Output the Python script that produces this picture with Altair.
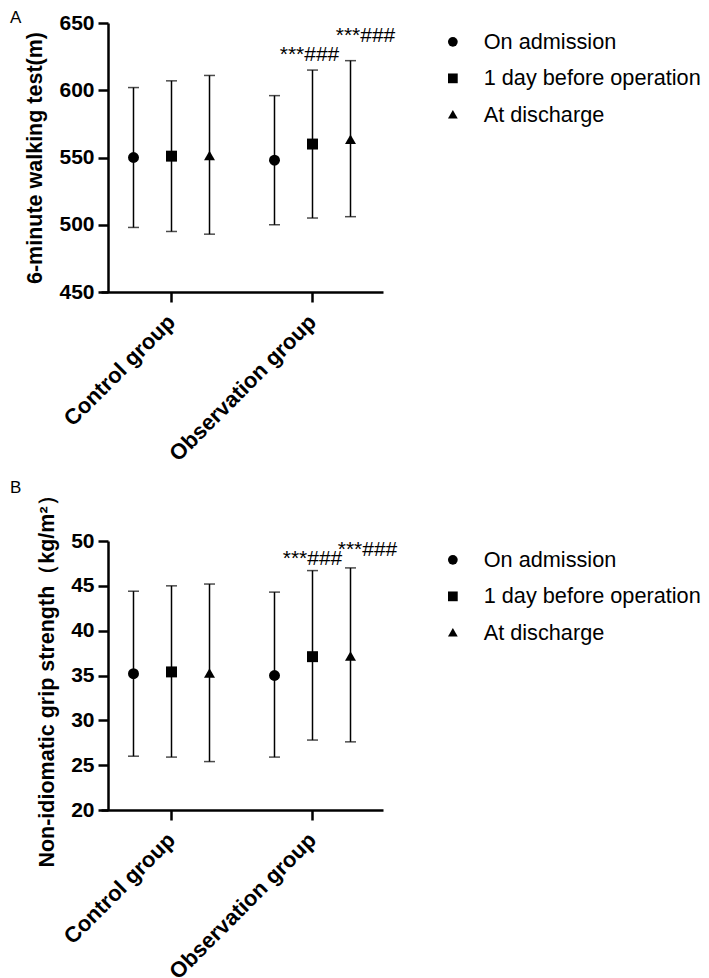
import altair as alt
import pandas as pd

groups = ["Control group", "Observation group"]
times = ["On admission", "1 day before operation", "At discharge"]

walk_mean = [550, 551, 551, 548, 560, 563]
walk_upper = [602, 607, 611, 596, 615, 622]
walk_lower = [498, 495, 493, 500, 505, 506]
walk_ticks = [450, 500, 550, 600, 650]

grip_mean = [35.2, 35.4, 35.2, 35.0, 37.1, 37.1]
grip_upper = [44.4, 45.0, 45.2, 44.3, 46.7, 47.0]
grip_lower = [26.0, 25.9, 25.4, 25.9, 27.8, 27.6]
grip_ticks = [20, 25, 30, 35, 40, 45, 50]

signif = ["", "", "", "", "***###", "***###"]

FONT = "Liberation Sans"
W, H = 282, 269
TRIANGLE = "M0,-1L1,0.75L-1,0.75Z"


def panel(mean, upper, lower, ticks, ytitle, letter, letter_y, ann):
    rows = []
    i = 0
    for g in groups:
        for t in times:
            rows.append({"group": g, "time": t, "mean": mean[i], "upper": upper[i],
                         "lower": lower[i], "sig": signif[i]})
            i += 1
    df = pd.DataFrame(rows)

    x = alt.X("group:N", sort=groups,
              scale=alt.Scale(paddingInner=0, paddingOuter=0),
              axis=alt.Axis(title=None, labelAngle=-45, labelAlign="right",
                            labelBaseline="middle", labelFont=FONT, labelFontSize=22,
                            labelFontWeight="bold", labelColor="black", labelPadding=16,
                            labelLimit=1000,
                            domainColor="black", domainWidth=2.5, tickColor="black",
                            tickWidth=2.5, tickSize=10))
    xo = alt.XOffset("time:N", sort=times, scale=alt.Scale(paddingInner=0, paddingOuter=0.355))
    yscale = alt.Scale(domain=[ticks[0], ticks[-1]], nice=False, zero=False)
    yaxis = alt.Axis(values=ticks, title=ytitle, grid=False, offset=-7,
                     domainColor="black", domainWidth=2.5, tickColor="black",
                     tickWidth=2.5, tickSize=10, labelFont=FONT, labelFontSize=21,
                     labelFontWeight="bold", labelColor="black", labelPadding=4,
                     titleFont=FONT, titleFontSize=21.5, titleFontWeight="bold",
                     titleColor="black", titlePadding=12)
    y = alt.Y("mean:Q", scale=yscale, axis=yaxis)

    base = alt.Chart(df)
    rule = base.mark_rule(color="black", strokeWidth=1.5).encode(
        x=x, xOffset=xo, y=alt.Y("lower:Q", scale=yscale, axis=yaxis), y2="upper:Q")
    cap_top = base.mark_tick(color="black", size=11, thickness=1.5).encode(
        x=x, xOffset=xo, y=alt.Y("upper:Q", scale=yscale, axis=yaxis))
    cap_bot = base.mark_tick(color="black", size=11, thickness=1.5).encode(
        x=x, xOffset=xo, y=alt.Y("lower:Q", scale=yscale, axis=yaxis))
    pts = base.mark_point(filled=True, opacity=1, color="black", size=120).encode(
        x=x, xOffset=xo, y=y,
        shape=alt.Shape("time:N", sort=times,
                        scale=alt.Scale(domain=times, range=["circle", "square", TRIANGLE]),
                        legend=alt.Legend(title=None, orient="none", legendX=341,
                                          legendY=8, padding=0, labelFont=FONT,
                                          labelFontSize=21.7, labelColor="black",
                                          labelOffset=20, rowPadding=13.5, symbolSize=95,
                                          labelLimit=1000,
                                          symbolFillColor="black", symbolStrokeWidth=0)))
    layers = [rule, cap_top, cap_bot, pts]
    for t, dx, dy in ann:
        layers.append(
            base.transform_filter(alt.datum.sig != "").transform_filter(alt.datum.time == t)
            .mark_text(font=FONT, fontSize=21, color="black", align="center",
                       baseline="alphabetic", dx=dx, dy=dy)
            .encode(x=x, xOffset=xo, y=alt.Y("upper:Q", scale=yscale, axis=yaxis),
                    text="sig:N"))
    lab = alt.Chart(pd.DataFrame({"label": [letter]})).mark_text(
        font=FONT, fontSize=17, color="black", align="left", baseline="alphabetic").encode(
        x=alt.value(-91), y=alt.value(letter_y), text="label:N")
    layers.append(lab)
    return alt.layer(*layers).properties(width=W, height=H)


pa = panel(walk_mean, walk_upper, walk_lower, walk_ticks, "6-minute walking test(m)",
           "A", 0, [("1 day before operation", -3, -9), ("At discharge", 15, -19)])
pb = panel(grip_mean, grip_upper, grip_lower, grip_ticks,
           "Non-idiomatic grip strength（kg/m²）",
           "B", -48, [("1 day before operation", 0, -6), ("At discharge", 17, -12)])

chart = alt.vconcat(pa, pb, spacing=249, bounds="flush").resolve_scale(
    shape="independent").resolve_legend(shape="independent").properties(
    padding={"left": 10, "top": 9, "right": 0, "bottom": 0}).configure_view(stroke=None)

chart.save("out.html", embed_options={"renderer": "svg", "actions": False})
